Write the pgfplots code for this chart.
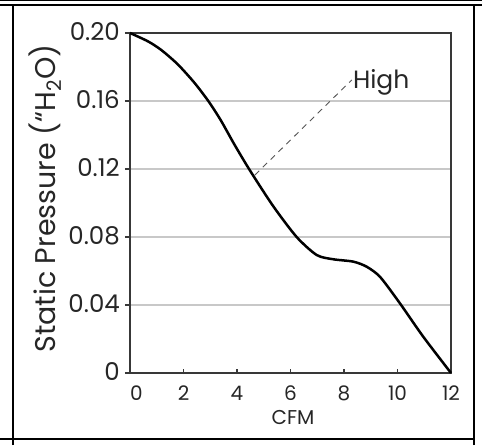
\documentclass[border=0pt]{standalone}
\usepackage{fontspec}
\setmainfont{Poppins}
\usepackage{pgfplots}
\pgfplotsset{compat=1.18}
\definecolor{axisgray}{HTML}{383838}
\definecolor{gridgray}{HTML}{C8C8C8}
\definecolor{dashgray}{HTML}{555555}
\begin{document}
\begin{tikzpicture}
\useasboundingbox (0,0) rectangle (482pt,445pt);
% frame around the chart
\draw[line width=1.5pt] (0,444.5pt) -- (482pt,444.5pt);
\draw[line width=2pt] (0,440pt) -- (482pt,440pt);
\draw[line width=2.5pt] (13pt,0) -- (13pt,440pt);
\draw[line width=2.5pt] (474pt,0) -- (474pt,440pt);
\draw[line width=2.5pt] (0,6pt) -- (474pt,6pt);
\begin{axis}[
  at={(130pt,72pt)}, anchor=south west,
  scale only axis, width=321pt, height=340pt,
  xmin=0, xmax=12, ymin=0, ymax=0.2,
  xtick={0,2,4,6,8,10,12},
  xticklabels={\hphantom{0}0,2,4,6,8,10,12},
  ytick={0,0.04,0.08,0.12,0.16,0.2},
  yticklabels={0,0.04,0.08,0.12,0.16,0.20},
  ymajorgrids,
  grid style={gridgray, line width=1.5pt},
  axis line style={axisgray, line width=2pt},
  tick style={axisgray, line width=1.5pt},
  tick align=outside,
  major tick length=5pt,
  x tick style={yshift=4pt},
  xtick pos=bottom, ytick pos=left,
  every y tick label/.append style={font=\fontsize{24.5}{26}\selectfont, text=black!85, inner sep=0pt, xshift=-5pt, yshift=1.5pt},
  every x tick label/.append style={font=\fontsize{20}{22}\selectfont, text=black!85, inner sep=0pt, yshift=-8pt},
  xlabel={CFM},
  ylabel={Static Pressure (“H\textsubscript{2}O)},
  every axis x label/.style={at={(axis description cs:0.5,0)}, anchor=center, xshift=2.5pt, yshift=-44pt, font=\fontsize{20}{22}\selectfont, text=black!85},
  every axis y label/.style={at={(axis description cs:-0.2648,0.513)}, anchor=center, rotate=90, font=\fontsize{28.5}{30}\selectfont, text=black!85},
  clip=false,
]
\addplot[black, line width=2.5pt, smooth, tension=0.45] coordinates {
  (0,0.200) (0.67,0.1951) (1.17,0.1900) (1.79,0.1815) (2.42,0.1705)
  (2.95,0.1595) (3.4,0.1485) (3.9,0.1345) (4.49,0.119) (5.36,0.098) (6.23,0.080)
  (6.98,0.0694) (7.6,0.0669) (8.35,0.0655) (8.85,0.0625) (9.35,0.0565)
  (10.09,0.041) (10.96,0.0214) (12,0)
};
\addplot[dashgray, line width=0.9pt, dash pattern=on 6pt off 5pt] coordinates {
  (4.67,0.1165) (8.29,0.1724)
};
\node[anchor=base west, inner sep=0pt, font=\fontsize{25}{27}\selectfont, text=black!85] at (axis cs:8.33,0.1676) {High};
\end{axis}
\end{tikzpicture}
\end{document}
